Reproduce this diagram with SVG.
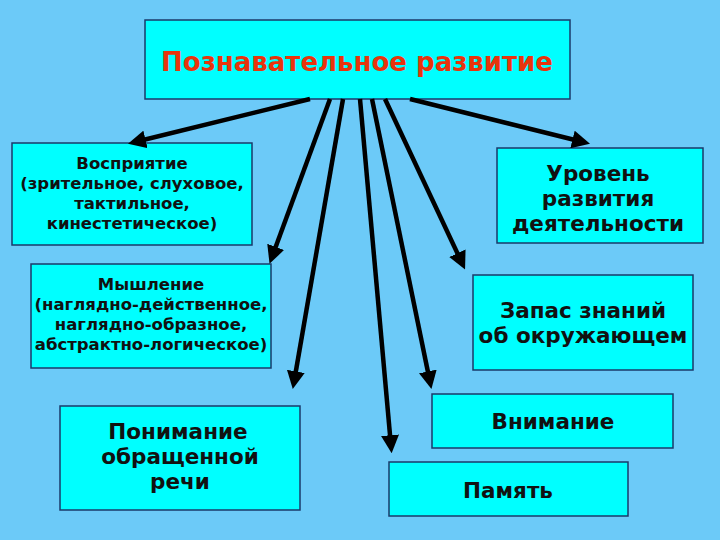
<svg xmlns="http://www.w3.org/2000/svg" width="720" height="540" viewBox="0 0 720 540">
<defs>
<style>
.b{fill:#00ffff;stroke:#1a3a6a;stroke-width:1.5}
.t{font-family:"DejaVu Sans",sans-serif;font-weight:bold;fill:#111;text-anchor:middle}
.s{font-size:16.5px}.m{font-size:21.5px}
.c line{stroke:#000;stroke-width:4.5;marker-end:url(#a)}
</style>
<marker id="a" viewBox="0 0 10 10" refX="6" refY="5" markerWidth="4" markerHeight="4" orient="auto" markerUnits="strokeWidth"><path d="M0,0L10,5L0,10z" fill="#000"/></marker>
</defs>
<rect width="720" height="540" fill="#6ccaf8"/>
<g id="top"><rect class="b" x="145" y="20" width="425" height="79"/><text x="357" y="71" style="font-family:'DejaVu Sans',sans-serif;font-weight:bold;font-size:26px;fill:#e8340c;text-anchor:middle">Познавательное развитие</text></g>
<g id="vospr"><rect class="b" x="12" y="143" width="240" height="102"/><text class="t s" x="132" y="169">Восприятие<tspan x="132" dy="20">(зрительное, слуховое,</tspan><tspan x="132" dy="20">тактильное,</tspan><tspan x="132" dy="20">кинестетическое)</tspan></text></g>
<g id="uroven"><rect class="b" x="497" y="148" width="206" height="95"/><text class="t m" x="598" y="181">Уровень<tspan x="598" dy="25">развития</tspan><tspan x="598" dy="25">деятельности</tspan></text></g>
<g id="mysh"><rect class="b" x="31" y="264" width="240" height="104"/><text class="t s" x="151" y="290">Мышление<tspan x="151" dy="20">(наглядно-действенное,</tspan><tspan x="151" dy="20">наглядно-образное,</tspan><tspan x="151" dy="20">абстрактно-логическое)</tspan></text></g>
<g id="zapas"><rect class="b" x="473" y="275" width="220" height="95"/><text class="t m" x="583" y="318">Запас знаний<tspan x="583" dy="25">об окружающем</tspan></text></g>
<g id="ponim"><rect class="b" x="60" y="406" width="240" height="104"/><text class="t m" x="178" y="439">Понимание<tspan x="180" dy="25">обращенной</tspan><tspan x="180" dy="25">речи</tspan></text></g>
<g id="vnim"><rect class="b" x="432" y="394" width="241" height="54"/><text class="t m" x="553" y="429">Внимание</text></g>
<g id="pamyat"><rect class="b" x="389" y="462" width="239" height="54"/><text class="t m" x="508" y="498">Память</text></g>
<g class="c">
<line x1="310" y1="99" x2="135" y2="142"/>
<line x1="330" y1="99" x2="272" y2="257"/>
<line x1="343" y1="99" x2="294" y2="382"/>
<line x1="360" y1="99" x2="391" y2="446"/>
<line x1="372" y1="99" x2="430" y2="382"/>
<line x1="385" y1="99" x2="462" y2="263"/>
<line x1="410" y1="99" x2="583" y2="142"/>
</g>
</svg>
